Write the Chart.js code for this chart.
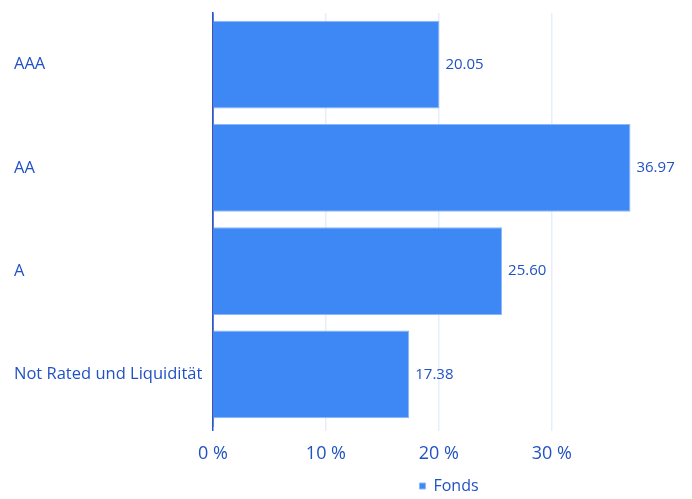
<!DOCTYPE html>
<html>
<head>
<meta charset="utf-8">
<script src="https://cdn.jsdelivr.net/npm/chart.js@4/dist/chart.umd.min.js"></script>
<style>
  body { margin: 0; background: #fff; }
  #wrap { width: 692px; height: 499px; position: relative; }
</style>
</head>
<body>
<div id="wrap"><canvas id="ratingChart"></canvas></div>
<script>
var categories = ['AAA', 'AA', 'A', 'Not Rated und Liquidität'];
var fondsValues = [20.05, 36.97, 25.60, 17.38];
var tickValues = [0, 10, 20, 30];

var textColor = '#2152c4';
var barColor = '#3e88f5';
var fontFamily = "'Open Sans', 'Noto Sans', sans-serif";

// draws the value right after each bar
var valueLabels = {
    id: 'valueLabels',
    afterDatasetsDraw: function(chart) {
        var ctx = chart.ctx;
        var meta = chart.getDatasetMeta(0);
        ctx.save();
        ctx.fillStyle = textColor;
        ctx.font = '15px ' + fontFamily;
        ctx.textAlign = 'left';
        ctx.textBaseline = 'middle';
        meta.data.forEach(function(bar, i) {
            ctx.fillText(fondsValues[i].toFixed(2), bar.x + 6, bar.y);
        });
        ctx.restore();
    }
};

function doBarChart(canvasID) {
    return new Chart(document.getElementById(canvasID), {
        type: 'bar',
        data: {
            labels: categories,
            datasets: [{
                label: 'Fonds',
                data: fondsValues,
                backgroundColor: barColor,
                borderColor: '#8cb8f8',
                borderWidth: 1,
                borderSkipped: 'start',
                barPercentage: 0.85,
                categoryPercentage: 1
            }]
        },
        options: {
            indexAxis: 'y',
            responsive: true,
            maintainAspectRatio: false,
            animation: false,
            layout: { padding: { left: 14, top: 9, right: 7, bottom: -5 } },
            scales: {
                x: {
                    min: 0,
                    max: 41.8,
                    afterBuildTicks: function(scale) {
                        scale.ticks = tickValues.map(function(v) { return { value: v }; });
                    },
                    afterFit: function(scale) { scale.height = 49; },
                    border: { display: false },
                    grid: {
                        color: function(c) { return c.tick && c.tick.value === 0 ? '#2a56c6' : '#e6eefb'; },
                        lineWidth: 1.5,
                        tickLength: 5
                    },
                    ticks: {
                        color: textColor,
                        font: { family: fontFamily, size: 18 },
                        padding: 12,
                        callback: function(v) { return v + ' %'; }
                    }
                },
                y: {
                    afterFit: function(scale) { scale.width = 199; },
                    border: { display: true, color: '#2a56c6', width: 1.5 },
                    grid: { display: false },
                    ticks: {
                        color: textColor,
                        crossAlign: 'far',
                        font: { family: fontFamily, size: 16.5 }
                    }
                }
            },
            plugins: {
                legend: {
                    position: 'bottom',
                    fullSize: false,
                    labels: {
                        color: textColor,
                        font: { family: fontFamily, size: 16 },
                        boxWidth: 6,
                        boxHeight: 6,
                        padding: 3
                    }
                },
                tooltip: { enabled: false }
            }
        },
        plugins: [valueLabels]
    });
}

doBarChart('ratingChart');
</script>
</body>
</html>
